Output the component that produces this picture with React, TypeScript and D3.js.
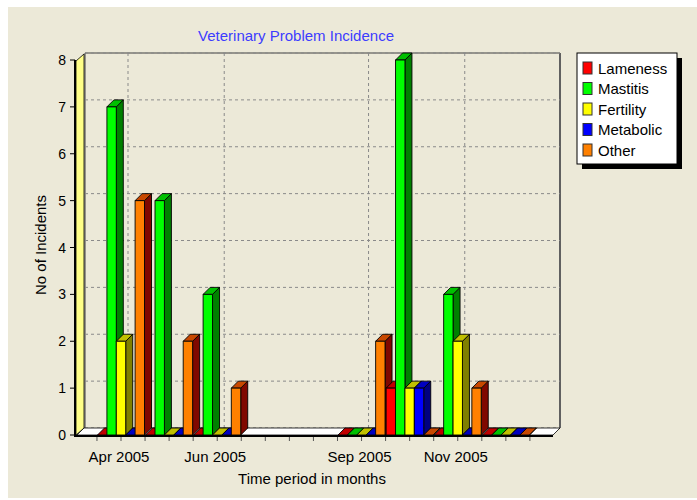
import React from "react";
import * as d3 from "d3";

const periods = ["Apr 2005", "May 2005", "Jun 2005", "Sep 2005", "Oct 2005", "Nov 2005", "Dec 2005"];
const periodMonth = [0, 1, 2, 5, 6, 7, 8]; // months since Apr 2005
const lameness = [0, 0, 0, 0, 1, 0, 0];
const mastitis = [7, 5, 3, 0, 8, 3, 0];
const fertility = [2, 0, 0, 0, 1, 2, 0];
const metabolic = [0, 0, 0, 0, 1, 0, 0];
const other = [5, 2, 1, 2, 0, 1, 0];
const seriesNames = ["Lameness", "Mastitis", "Fertility", "Metabolic", "Other"];
const seriesValues = [lameness, mastitis, fertility, metabolic, other];
const seriesColors = ["#FF0000", "#00FF00", "#FFFF00", "#0000FF", "#FF8000"];
const seriesTop = ["#C00000", "#00C000", "#C0C000", "#0000C0", "#C84800"];
const seriesSide = ["#800000", "#008000", "#808000", "#000080", "#800800"];
const labelMonths = [0, 2, 5, 7];
const labelTexts = ["Apr 2005", "Jun 2005", "Sep 2005", "Nov 2005"];
const yTicks = [0, 1, 2, 3, 4, 5, 6, 7, 8];

const W = 697;
const H = 500;
const D = 7; // 3D depth
const FONT = "'Liberation Sans', Arial, sans-serif";

export default function App() {
  const x = d3.scaleLinear().domain([-0.894, 8.98]).range([78, 553]);
  const y = d3.scaleLinear().domain([0, 8]).range([435, 60]);
  const inner = d3.scaleBand<string>().domain(seriesNames).range([-23.5, 23.5]).padding(0);
  const bw = inner.bandwidth();
  const x0 = x.range()[0];
  const x1 = x.range()[1];
  const yTop = y(8);
  const yBot = y(0);

  const minorTicks = d3.range(-1, 18).map((k) => k / 2);

  const bars: JSX.Element[] = [];
  periods.forEach((p, gi) => {
    const cx = x(periodMonth[gi]);
    seriesNames.forEach((s, si) => {
      const v = seriesValues[si][gi];
      const bx = cx + (inner(s) as number);
      const bt = y(v);
      const pts = (arr: number[][]) => arr.map((a) => a.join(",")).join(" ");
      bars.push(
        <g key={`${p}-${s}`} stroke="#000" strokeWidth={0.9} strokeLinejoin="round">
          <polygon
            points={pts([[bx + bw, bt], [bx + bw + D, bt - D], [bx + bw + D, yBot - D], [bx + bw, yBot]])}
            fill={seriesSide[si]}
          />
          <polygon
            points={pts([[bx, bt], [bx + D, bt - D], [bx + bw + D, bt - D], [bx + bw, bt]])}
            fill={seriesTop[si]}
          />
          {v > 0 && <rect x={bx} y={bt} width={bw} height={yBot - bt} fill={seriesColors[si]} />}
        </g>
      );
    });
  });

  return (
    <svg width={W} height={H} style={{ position: "absolute", left: 0, top: 0, background: "#fff" }} fontFamily={FONT}>
      <rect x={8} y={7} width={W - 8} height={H - 9} fill="#ECE9D8" />
      {/* title */}
      <text x={296} y={35} textAnchor="middle" dominantBaseline="central" fontSize={15} fill="#3C3CFF">
        Veterinary Problem Incidence
      </text>

      {/* back wall border */}
      <line x1={x0 + D} y1={yTop - D} x2={x1 + D} y2={yTop - D} stroke="#404040" strokeWidth={1} />
      <line x1={x1 + D} y1={yTop - D} x2={x1 + D} y2={yBot - D} stroke="#606060" strokeWidth={2} />
      <line x1={x0 + D} y1={yTop - D} x2={x0 + D} y2={yBot - D} stroke="#404040" strokeWidth={1} />

      {/* horizontal grid */}
      {yTicks.map((t) => (
        <line key={`gy${t}`} x1={x0 + D} x2={x1 + D} y1={y(t) - D} y2={y(t) - D} stroke="#8a8a8a" strokeDasharray="3,3" strokeWidth={1} />
      ))}
      {/* vertical grid */}
      {labelMonths.map((m) => (
        <line key={`gx${m}`} x1={x(m) + D} x2={x(m) + D} y1={yTop - D} y2={yBot - D} stroke="#8a8a8a" strokeDasharray="3,3" strokeWidth={1} />
      ))}

      {/* left wall */}
      <polygon
        points={`${x0 - 2},${yTop + 1} ${x0 + D - 1},${yTop - D + 1} ${x0 + D - 1},${yBot - D} ${x0 - 2},${yBot}`}
        fill="#FFFF88"
        stroke="#000"
        strokeWidth={0.8}
      />
      {/* floor */}
      <polygon
        points={`${x0 - 1},${yBot} ${x0 + D - 1},${yBot - D} ${x1 + D},${yBot - D} ${x1},${yBot}`}
        fill="#FFFFFF"
        stroke="#000"
        strokeWidth={0.8}
      />

      {bars}

      {/* axes */}
      <line x1={75} x2={75} y1={yTop} y2={yBot + 1} stroke="#000" strokeWidth={2} />
      <line x1={74} x2={x1} y1={yBot + 1} y2={yBot + 1} stroke="#000" strokeWidth={2} />
      {yTicks.map((t) => (
        <g key={`yt${t}`}>
          <line x1={70} x2={75} y1={y(t)} y2={y(t)} stroke="#000" strokeWidth={1} />
          <text x={66} y={y(t)} textAnchor="end" dominantBaseline="central" fontSize={14} fill="#000">
            {t}
          </text>
        </g>
      ))}
      {minorTicks.map((m) => (
        <line key={`xt${m}`} x1={x(m)} x2={x(m)} y1={yBot + 2} y2={yBot + 6} stroke="#555" strokeWidth={1} />
      ))}
      {labelMonths.map((m, i) => (
        <text key={`xl${m}`} x={x(m) - 2} y={462} textAnchor="middle" fontSize={15} fill="#000">
          {labelTexts[i]}
        </text>
      ))}
      <text x={312} y={484} textAnchor="middle" fontSize={15} fill="#000">
        Time period in months
      </text>
      <text transform={`translate(40,245) rotate(-90)`} textAnchor="middle" dominantBaseline="central" fontSize={15} fill="#000">
        No of Incidents
      </text>

      {/* legend */}
      <rect x={582} y={58} width={100} height={111} fill="#000" />
      <rect x={577} y={53} width={100} height={111} fill="#fff" stroke="#000" strokeWidth={1} />
      {seriesNames.map((s, i) => {
        const cy = 68 + 20.5 * i;
        return (
          <g key={`lg${s}`}>
            <rect x={583} y={cy - 6} width={9} height={12} fill={seriesColors[i]} stroke="#333" strokeWidth={1} />
            <text x={598} y={cy} dominantBaseline="central" fontSize={15} fill="#000">
              {s}
            </text>
          </g>
        );
      })}
    </svg>
  );
}
